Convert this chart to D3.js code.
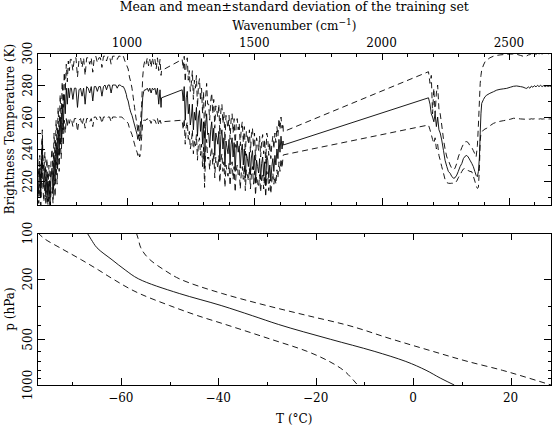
<!DOCTYPE html>
<html><head><meta charset="utf-8">
<script src="https://cdn.jsdelivr.net/npm/d3@7"></script>
<style>
body{margin:0;background:#fff}
svg{display:block}
text{font-family:"DejaVu Serif",serif;fill:#000;font-size:12px}
</style>
</head><body>
<script>
// ---------- Top panel: brightness temperature spectrum ----------
const wavenumber = [
 650,654,658,662,666,668,670,674,678,682,686,690,694,698,702,706,710,714,718,722,726,730,734,738,742,746,750,754,758,762,766,770,774,778,
 782,788,794,800,806,812,818,824,830,836,842,848,854,860,866,872,878,884,890,896,902,908,914,920,926,932,938,944,950,956,962,968,974,980,986,992,998,
 1000,1005,1010,1015,1020,1025,1030,1035,1040,1043,1046,1050,1054,1058,1062,1066,1070,1075,1080,1085,1090,1095,1100,1105,1110,1115,1120,1125,1130,1134,1136,
 1217,1221,1225,1229,1233,1237,1241,1245,1249,1253,1257,1261,1265,1269,1273,1277,1281,1285,1289,1293,1297,1301,1305,1309,1313,1317,1321,1325,1329,1333,1337,1341,1345,1349,1353,1357,1361,1365,1369,1373,1377,1381,1385,1389,1393,1397,1401,1405,1409,1413,1417,1421,1425,1429,1433,1437,1441,1445,1449,1453,1457,1461,1465,1469,1473,1477,1481,1485,1489,1493,1497,1501,1505,1509,1513,1517,1521,1525,1529,1533,1537,1541,1545,1549,1553,1557,1561,1565,1569,1573,1577,1581,1585,1589,1593,1597,1601,1605,1609,1613,1614,
 2184,2190,2195,2200,2205,2210,2215,2220,2225,2230,2236,2243,2249,2256,2262,2269,2275,2282,2288,2295,2301,2308,2315,2321,2328,2334,2340,2347,2354,2360,2366,2371,2376,2380,2384,2387,2390,2393,2400,2406,2413,2425,2439,2452,2465,2478,2491,2505,2518,2530,2545,2555,2565,2570,2576,2582,2588,2594,2600,2606,2612,2618,2624,2630,2636,2642,2648,2654,2660,2665
];
const btMean = [
 224,212,228,210,238,245,226,216,228,210,224,207,220,206,222,228,212,236,220,244,228,252,236,260,244,268,252,274,262,278,268,278,272,278,
 278,271,278,278,266,277,278,273,278,268,279,278,275,279,270,279,279,276,279,279,273,279,280,277,280,280,275,280,280,280,278,280,280,279,279,277,274,
 272,270,266,263,261,258,255,252,249,246,249,245,248,260,272,276,277,277,278,276,278,275,278,277,278,274,278,268,277,266,272,
 277,270,279,258,272,276,262,268,255,260,268,252,263,258,266,248,260,264,251,259,243,257,228,254,262,249,250,241,252,257,245,253,236,250,247,243,251,232,248,252,240,247,229,245,241,237,246,230,243,247,235,244,226,240,245,238,242,228,239,243,230,240,222,237,234,229,238,224,235,239,227,236,219,233,229,225,234,221,231,235,223,232,217,236,233,222,230,220,229,234,226,236,230,240,234,246,238,248,240,245,242.5,
 272,268,262,260,257,262,254,260,252,250,245.6,239,233,229,226,224.8,223,221.7,222,223.7,226,229,231,234,235.5,236,235,233,231,229,226,223.5,222.7,226,235,250,262,268.5,271,272.7,273.7,274.8,275.8,276.8,277.3,277.6,277.9,278.6,279.2,279.4,279,278.7,278,277.9,278.8,278,279.3,278.6,279.6,278.8,279.8,279,279.8,279,279.6,279,279.5,279.1,279.4,279.2
];
const btUpper = [
 234,222,236,218,246,252,236,226,238,220,234,214,230,212,232,240,224,250,232,258,240,266,248,274,256,282,266,288,276,293,282,295,289,296,
 296,289,297,297,285,296,297,291,297,286,297,297,293,297,288,297,298,294,297,297,291,298,298,295,298,298,293,298,298,298,296,298,298,297,298,295,293,
 292,290,285,282,278,272,266,260,255,250,256,248,258,268,285,292,295,293,297,292,296,291,297,293,296,290,297,289,296,286,289,
 296,290,298,282,294,297,283,289,276,281,289,271,283,278,286,266,280,284,270,278,262,276,246,272,281,268,268,258,270,275,262,271,253,267,264,260,268,249,264,268,256,263,245,261,257,253,261,246,258,262,250,259,241,255,259,252,256,242,253,257,244,254,236,251,248,243,252,238,249,253,241,250,233,247,244,239,248,235,245,249,237,246,231,250,247,236,244,234,243,248,240,250,244,254,248,259,252,260,253,256,250.8,
 288.3,281,286,262,278,262,275,280,265,262,255,246,240,235,233,230,228,227,228,231,235,238,241,243,244.5,244.6,244,242,241,239,237,235,242,255,270,281,286,289.4,292.5,294.5,295.6,297,298,298.5,298.8,299,299.2,299.3,299.4,299.2,298.5,298,297.7,298.2,298.8,299,299.6,298.5,300.5,299,300.5,299,300.5,299.2,300.5,299.5,300.3,299.4,300.3,299.8
];
const btLower = [
 214,206,218,205,230,236,216,207,218,205,214,205,210,205,212,216,206,224,210,232,218,240,226,248,234,256,242,258,250,259,254,259,256,259,
 259,254,259,259,251,258,259,255,259,253,259,259,257,259,254,260,260,258,260,260,256,260,260,259,260,260,257,260,260,260,259,260,260,260,259,258,257.5,
 257,256,253,251,249,246,243,240,238,236,238,235,237,248,256,258,258,258,259,257,258,256,259,258,258,256,259,255,258,256,257,
 258,252,259,243,254,257,246,251,240,244,252,237,246,242,249,233,244,247,236,243,229,241,216,239,246,234,235,227,237,241,230,238,222,235,232,228,236,219,233,237,226,232,216,230,226,223,231,217,228,232,221,229,213,226,230,224,227,215,225,229,221,230,214,227,224,220,228,215,225,229,218,226,211,223,219,216,224,213,222,225,215,223,210,226,224,214,221,212,220,225,218,223,218,227,222,232,226,234,228,235,236.3,
 255,252,249,246,243.5,247,240,243,236,233,229,224.8,221,219,218.6,218.5,218.6,218.6,218.6,220,222,223.8,226,227.5,228,227.5,226.5,226,225.8,223,220,217,215.4,216,228,245,249.8,250.5,251.9,252.5,253,254.5,256,256.8,257.3,257.7,258.1,258.6,259.2,259.1,258.8,258.7,258.6,258.5,258.8,258.6,258.9,258.7,258.9,258.7,258.8,258.7,258.9,258.7,258.8,258.7,258.8,258.7,258.8,258.75
];
const wnMajorTicks = [1000,1500,2000,2500];
const wnMinorTicks = [700,800,900,1100,1200,1300,1400,1600,1700,1800,1900,2100,2200,2300,2400,2600];
const btMajorTicks = [220,240,260,280,300];
const btMinorTicks = [210,230,250,270,290];

// ---------- Bottom panel: temperature profile ----------
const pressure = [100,110,125,150,175,200,250,300,350,400,500,600,700,800,900,1000];
const tMean  = [-66.9,-66.1,-64.9,-61.8,-59.1,-56.4,-48.0,-39.4,-33.0,-27.6,-17.0,-8.0,-1.5,2.65,5.56,8.44];
const tUpper = [-56.8,-56.4,-55.9,-54.0,-51.1,-48.0,-39.2,-30.1,-21.6,-14.0,-4.3,4.0,11.2,18.3,23.7,28.3];
const tLower = [-77.0,-75.5,-72.5,-68.1,-64.6,-61.7,-56.2,-50.0,-44.2,-38.5,-29.2,-21.8,-17.2,-14.3,-12.65,-11.4];
const tMajorTicks = [-60,-40,-20,0,20];
const tMinorTicks = [-70,-50,-30,-10,10];
const pLabelTicks = [100,200,500,1000];
const pMinorTicks = [300,400,600,700,800,900];

// ---------- Layout ----------
const W=556,H=426, L=37.5, R=551, T1=53, B1=205, T2=233, B2=385;
const svg = d3.select("body").append("svg").attr("width",W).attr("height",H);

const x1 = d3.scaleLinear().domain([649,2665]).range([L,R]);
const y1 = d3.scaleLinear().domain([205,300]).range([B1,T1]);
const x2 = d3.scaleLinear().domain([-77.1,28.3]).range([L,R]);
const y2 = d3.scaleLog().domain([100,1000]).range([T2,B2]);

function ticks(g, axis, vals, size){
  g.call(axis.tickValues(vals).tickSize(size).tickFormat(""));
  g.select(".domain").remove();
  g.selectAll("line").attr("stroke","#000").attr("shape-rendering","crispEdges");
}
function panelAxes(xs, ys, top, bot, xMaj, xMin, yMaj, yMin){
  const a = svg.append("g");
  ticks(a.append("g").attr("transform",`translate(0,${bot})`), d3.axisBottom(xs), xMaj, -7);
  ticks(a.append("g").attr("transform",`translate(0,${bot})`), d3.axisBottom(xs), xMin, -3.5);
  ticks(a.append("g").attr("transform",`translate(0,${top})`), d3.axisTop(xs), xMaj, -7);
  ticks(a.append("g").attr("transform",`translate(0,${top})`), d3.axisTop(xs), xMin, -3.5);
  ticks(a.append("g").attr("transform",`translate(${L},0)`), d3.axisLeft(ys), yMaj, -7);
  ticks(a.append("g").attr("transform",`translate(${L},0)`), d3.axisLeft(ys), yMin, -3.5);
  ticks(a.append("g").attr("transform",`translate(${R},0)`), d3.axisRight(ys), yMaj, -7);
  ticks(a.append("g").attr("transform",`translate(${R},0)`), d3.axisRight(ys), yMin, -3.5);
  a.append("rect").attr("x",L).attr("y",top).attr("width",R-L).attr("height",bot-top)
    .attr("fill","none").attr("stroke","#000").attr("shape-rendering","crispEdges");
}

const defs = svg.append("defs");
defs.append("clipPath").attr("id","c1").append("rect").attr("x",L).attr("y",T1).attr("width",R-L).attr("height",B1-T1);
defs.append("clipPath").attr("id","c2").append("rect").attr("x",L).attr("y",T2).attr("width",R-L).attr("height",B2-T2);

// ---- top panel data
const spec = wavenumber.map((w,i)=>({w, m:btMean[i], u:btUpper[i], l:btLower[i]}));
const g1 = svg.append("g").attr("clip-path","url(#c1)");
const lineOf = k => d3.line().x(d=>x1(d.w)).y(d=>y1(d[k]));
g1.append("path").datum(spec).attr("d",lineOf("u")).attr("fill","none").attr("stroke","#000").attr("stroke-width",0.9).attr("stroke-dasharray","6,4");
g1.append("path").datum(spec).attr("d",lineOf("l")).attr("fill","none").attr("stroke","#000").attr("stroke-width",0.9).attr("stroke-dasharray","6,4");
g1.append("path").datum(spec).attr("d",lineOf("m")).attr("fill","none").attr("stroke","#000").attr("stroke-width",0.9);

panelAxes(x1, y1, T1, B1, wnMajorTicks, wnMinorTicks, btMajorTicks, btMinorTicks);

// ---- bottom panel data
const prof = pressure.map((p,i)=>({p, m:tMean[i], u:tUpper[i], l:tLower[i]}));
const g2 = svg.append("g").attr("clip-path","url(#c2)");
const pLine = k => d3.line().x(d=>x2(d[k])).y(d=>y2(d.p)).curve(d3.curveMonotoneY);
g2.append("path").datum(prof).attr("d",pLine("u")).attr("fill","none").attr("stroke","#000").attr("stroke-width",0.9).attr("stroke-dasharray","6,4");
g2.append("path").datum(prof).attr("d",pLine("l")).attr("fill","none").attr("stroke","#000").attr("stroke-width",0.9).attr("stroke-dasharray","6,4");
g2.append("path").datum(prof).attr("d",pLine("m")).attr("fill","none").attr("stroke","#000").attr("stroke-width",0.9);

panelAxes(x2, y2, T2, B2, tMajorTicks, tMinorTicks, pLabelTicks, pMinorTicks);

// ---- labels
const cx = (L+R)/2;
svg.append("text").attr("x",cx).attr("y",11).attr("text-anchor","middle").style("font-size","12.5px")
  .text("Mean and mean\u00B1standard deviation of the training set");
const wl = svg.append("text").attr("x",cx).attr("y",30).attr("text-anchor","middle");
wl.append("tspan").text("Wavenumber (cm");
wl.append("tspan").attr("dy",-5).attr("font-size","9px").text("\u22121");
wl.append("tspan").attr("dy",5).text(")");

svg.selectAll(".wnl").data(wnMajorTicks).enter().append("text")
  .attr("x",d=>x1(d)).attr("y",47).attr("text-anchor","middle").text(d=>d);
svg.selectAll(".btl").data(btMajorTicks).enter().append("text")
  .attr("transform",d=>`translate(31.5,${y1(d)}) rotate(-90)`).attr("text-anchor","middle").text(d=>d);
svg.append("text").attr("transform",`translate(13.5,${(T1+B1)/2}) rotate(-90)`).attr("text-anchor","middle")
  .text("Brightness Temperature (K)");

const fmt = d3.format("d");
svg.selectAll(".tl").data(tMajorTicks).enter().append("text")
  .attr("x",d=>x2(d)).attr("y",402).attr("text-anchor","middle").text(d=>fmt(d));
svg.selectAll(".pl").data(pLabelTicks).enter().append("text")
  .attr("transform",d=>`translate(31.5,${y2(d)}) rotate(-90)`).attr("text-anchor","middle").text(d=>d);
svg.append("text").attr("transform",`translate(13.5,${(T2+B2)/2}) rotate(-90)`).attr("text-anchor","middle")
  .text("p (hPa)");
svg.append("text").attr("x",cx).attr("y",423).attr("text-anchor","middle").text("T (\u00B0C)");
</script>
</body></html>
